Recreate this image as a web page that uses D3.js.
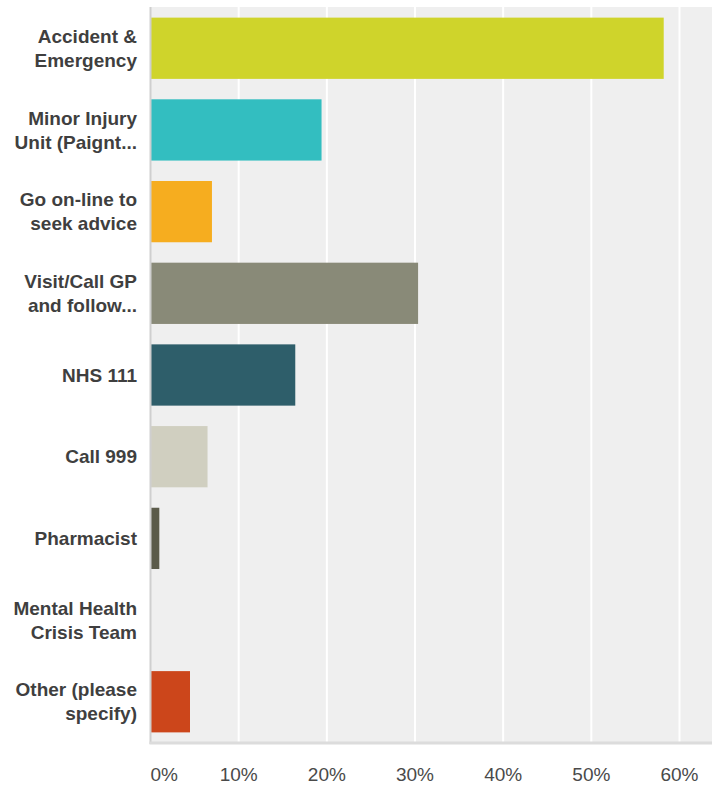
<!DOCTYPE html>
<html><head><meta charset="utf-8">
<script src="https://cdn.jsdelivr.net/npm/d3@7"></script>
<style>body{margin:0;background:#fff}svg{display:block}</style>
</head><body>
<svg id="c" width="712" height="785"></svg>
<script>
const categories = [
  ["Accident &","Emergency"],
  ["Minor Injury","Unit (Paignt..."],
  ["Go on-line to","seek advice"],
  ["Visit/Call GP","and follow..."],
  ["NHS 111"],
  ["Call 999"],
  ["Pharmacist"],
  ["Mental Health","Crisis Team"],
  ["Other (please","specify)"]
];
const values = [58.21, 19.40, 6.97, 30.35, 16.42, 6.47, 1.00, 0, 4.48];
const colors = ["#cfd42b","#33bec0","#f6ad1f","#898a78","#2e5e6a","#d0cfc0","#5b5b4a","#999999","#cc461b"];
const tickValues = [0,10,20,30,40,50,60];
const tickLabels = ["0%","10%","20%","30%","40%","50%","60%"];

const svg = d3.select("#c");
const pLeft = 150.5, pRight = 712, pTop = 7, pBottom = 743;
const x = d3.scaleLinear().domain([0,60]).range([pLeft, 679.5]);
const y = d3.scaleBand().domain(d3.range(categories.length)).range([pTop, pBottom]).paddingInner(0.25).paddingOuter(0.13);

svg.append("rect").attr("x", pLeft).attr("y", pTop).attr("width", pRight-pLeft).attr("height", pBottom-pTop).attr("fill","#efefef");

svg.append("g").selectAll("line").data(tickValues.slice(1)).join("line")
  .attr("x1", d=>x(d)).attr("x2", d=>x(d)).attr("y1", pTop).attr("y2", pBottom)
  .attr("stroke","#ffffff").attr("stroke-width",2);

svg.append("g").selectAll("rect").data(values).join("rect")
  .attr("x", x(0)).attr("y", (d,i)=>y(i)).attr("width", d=>x(d)-x(0)).attr("height", y.bandwidth())
  .attr("fill", (d,i)=>colors[i]);

// axes lines
svg.append("line").attr("x1", pLeft).attr("x2", pLeft).attr("y1", pTop).attr("y2", pBottom+1)
  .attr("stroke","#cfcfcf").attr("stroke-width",2);
svg.append("line").attr("x1", pLeft-1).attr("x2", pRight).attr("y1", pBottom).attr("y2", pBottom)
  .attr("stroke","#dcdcdc").attr("stroke-width",3);

// category labels
const lab = svg.append("g").attr("font-family","Liberation Sans, Arial, sans-serif").attr("font-weight","bold")
  .attr("font-size","19px").attr("fill","#3f3f3f").attr("text-anchor","end");
categories.forEach((lines,i)=>{
  const cy = y(i) + y.bandwidth()/2;
  const lh = 24;
  const t = lab.append("text").attr("x",137);
  lines.forEach((s,j)=>{
    t.append("tspan").attr("x",137).attr("y", cy + (j - (lines.length-1)/2)*lh).attr("dy","0.35em").text(s);
  });
});

// tick labels
svg.append("g").attr("font-family","Liberation Sans, Arial, sans-serif").attr("font-size","19px").attr("fill","#4a4a4a")
  .selectAll("text").data(tickValues).join("text")
  .attr("x", d=>x(d))
  .attr("y", 781)
  .attr("text-anchor", (d,i)=> i===0 ? "start" : "middle")
  .text((d,i)=>tickLabels[i]);
</script>
</body></html>
